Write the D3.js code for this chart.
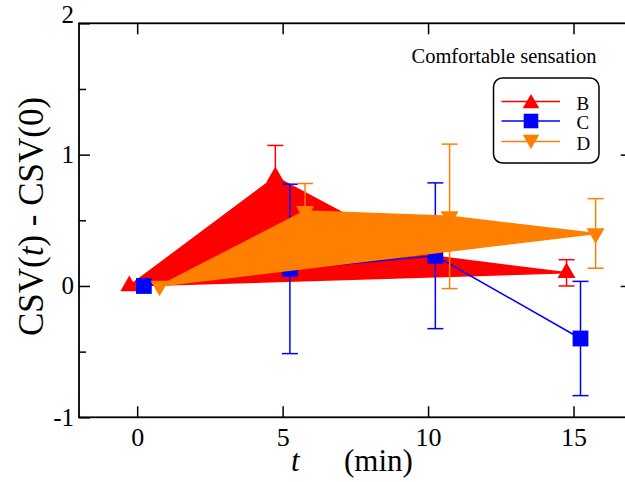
<!DOCTYPE html>
<html>
<head>
<meta charset="utf-8">
<script src="https://cdn.jsdelivr.net/npm/d3@7"></script>
<style>
  body { margin: 0; background: #fff; }
  svg text { font-family: "Liberation Serif", "Times New Roman", serif; fill: #000; }
</style>
</head>
<body>
<div id="chart"></div>
<script>
// data (time offsets per group as plotted)
const tB = [-0.27, 4.75, 9.75, 14.76];
const yB = [0, 0.83, 0.24, 0.10];
const eB = [0, 0.24, 0.15, 0.10];

const tC = [0.23, 5.25, 10.25, 15.24];
const yC = [0, 0.13, 0.23, -0.40];
const eC = [0, 0.645, 0.555, 0.435];

const tD = [0.77, 5.77, 10.74, 15.76];
const yD = [0, 0.57, 0.53, 0.40];
const eD = [0, 0.21, 0.55, 0.265];

const legendNames = ["B", "C", "D"];
const xTicks = [0, 5, 10, 15];
const yTicks = [-1, 0, 1, 2];
const yMinor = [-0.5, 0.5, 1.5];

var width = 625, height = 482;
var plotLeft = 79, plotRight = 631.7, plotTop = 23.3, plotBottom = 417.3;

var svg = d3.select("#chart").append("svg")
    .attr("width", width)
    .attr("height", height);

var x = d3.scaleLinear().domain([-2, 17]).range([plotLeft, plotRight]);
var y = d3.scaleLinear().domain([-1, 2]).range([plotBottom, plotTop]);

function pts(t, v) { return t.map((d, i) => [x(d), y(v[i])]); }
var line = d3.line();

var series = [
    { name: "B", t: tB, v: yB, e: eB, color: "#ff0000", shape: "up", fill: true },
    { name: "C", t: tC, v: yC, e: eC, color: "#0000ff", shape: "square", fill: false },
    { name: "D", t: tD, v: yD, e: eD, color: "#ff8000", shape: "down", fill: true }
];

function marker(g, shape, color, cx, cy, scale) {
    scale = scale || 1;
    if (shape === "square") {
        g.append("path")
            .attr("d", d3.symbol(d3.symbolSquare, 250 * scale)())
            .attr("transform", `translate(${cx},${cy})`)
            .attr("fill", color);
    } else {
        g.append("path")
            .attr("d", d3.symbol(d3.symbolTriangle, 140 * scale)())
            .attr("transform", `translate(${cx},${cy})` + (shape === "down" ? " rotate(180)" : ""))
            .attr("fill", color);
    }
}

// draw each series: line / filled polygon, error bars, markers
series.forEach(function (s) {
    var g = svg.append("g").attr("class", "series-" + s.name);
    var p = pts(s.t, s.v);
    g.append("path")
        .attr("d", line(p) + (s.fill ? "Z" : ""))
        .attr("fill", s.fill ? s.color : "none")
        .attr("stroke", s.color)
        .attr("stroke-width", 1.5)
        .attr("stroke-linejoin", "miter");

    s.t.forEach(function (t, i) {
        if (!s.e[i]) return;
        var cx = x(t), y1 = y(s.v[i] + s.e[i]), y2 = y(s.v[i] - s.e[i]);
        g.append("line").attr("x1", cx).attr("x2", cx).attr("y1", y1).attr("y2", y2)
            .attr("stroke", s.color).attr("stroke-width", 1.5);
        [y1, y2].forEach(function (yy) {
            g.append("line").attr("x1", cx - 8).attr("x2", cx + 8).attr("y1", yy).attr("y2", yy)
                .attr("stroke", s.color).attr("stroke-width", 1.5);
        });
    });

    p.forEach(function (d) { marker(g, s.shape, s.color, d[0], d[1]); });
});

// axes
var gx = svg.append("g")
    .attr("transform", `translate(0,${plotBottom})`)
    .call(d3.axisBottom(x).tickValues(xTicks).tickSize(-11).tickSizeOuter(0).tickPadding(10));
var gxt = svg.append("g")
    .attr("transform", `translate(0,${plotTop})`)
    .call(d3.axisTop(x).tickValues(xTicks).tickSize(-11).tickSizeOuter(0).tickFormat(""));
var gy = svg.append("g")
    .attr("transform", `translate(${plotLeft},0)`)
    .call(d3.axisLeft(y).tickValues(yTicks).tickSize(-11).tickSizeOuter(0).tickPadding(5)
        .tickFormat(d => String(d)));
var gym = svg.append("g")
    .attr("transform", `translate(${plotLeft},0)`)
    .call(d3.axisLeft(y).tickValues(yMinor).tickSize(-7).tickSizeOuter(0).tickFormat(""));
var gyr = svg.append("g")
    .attr("transform", `translate(${plotRight},0)`)
    .call(d3.axisRight(y).tickValues([0, 1]).tickSize(-11).tickSizeOuter(0).tickFormat(""));

[gx, gxt, gy, gym, gyr].forEach(function (g) {
    g.select(".domain").remove();
    g.selectAll(".tick line").attr("stroke", "#000").attr("stroke-width", 1.5);
});
gx.selectAll(".tick text").style("font-size", "26px");
gy.selectAll(".tick text").style("font-size", "25px")
    .attr("dy", d => d === 2 ? "-0.05em" : "0.32em");

svg.append("rect")
    .attr("x", plotLeft).attr("y", plotTop)
    .attr("width", plotRight - plotLeft).attr("height", plotBottom - plotTop)
    .attr("fill", "none").attr("stroke", "#000").attr("stroke-width", 1.8);

// axis titles
var yt = svg.append("text")
    .attr("transform", "translate(43,216.5) rotate(-90)")
    .attr("text-anchor", "middle")
    .style("font-size", "35px");
yt.append("tspan").text("CSV(");
yt.append("tspan").style("font-style", "italic").text("t");
yt.append("tspan").text(") - CSV(0)");

svg.append("text").attr("x", 291).attr("y", 471)
    .style("font-size", "31px").style("font-style", "italic").text("t");
svg.append("text").attr("x", 344).attr("y", 471)
    .style("font-size", "31px").text("(min)");

// legend
svg.append("text").attr("x", 411.5).attr("y", 62.5)
    .style("font-size", "20.5px").text("Comfortable sensation");

svg.append("rect")
    .attr("x", 493.5).attr("y", 78).attr("width", 105.5).attr("height", 85)
    .attr("rx", 9).attr("ry", 9)
    .attr("fill", "#fff").attr("stroke", "#000").attr("stroke-width", 1.5);

var legRows = [101.5, 121, 141.5];
series.forEach(function (s, i) {
    var ly = legRows[i];
    svg.append("line").attr("x1", 501.5).attr("x2", 560).attr("y1", ly).attr("y2", ly)
        .attr("stroke", s.color).attr("stroke-width", 1.5);
    marker(svg, s.shape, s.color, 531, ly + (s.shape === "up" ? 2 : s.shape === "down" ? -2 : 0), 0.85);
    svg.append("text").attr("x", 576.5).attr("y", ly + 8)
        .style("font-size", "19px").text(legendNames[i]);
});
</script>
</body>
</html>
